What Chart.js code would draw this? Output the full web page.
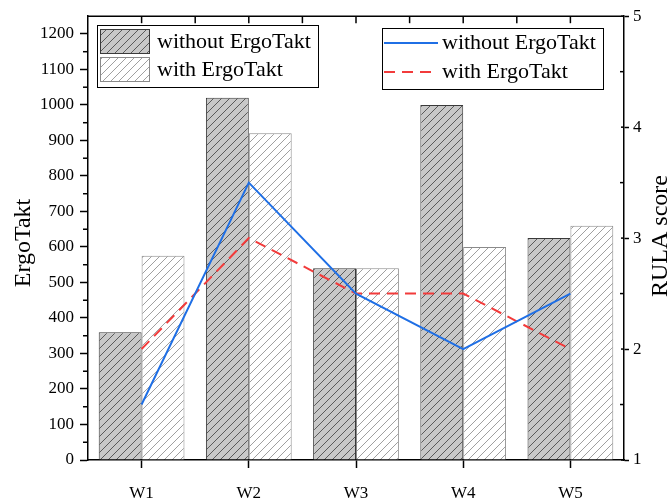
<!DOCTYPE html>
<html>
<head>
<meta charset="utf-8">
<script src="https://cdn.jsdelivr.net/npm/chart.js@4/dist/chart.umd.min.js"></script>
<style>
  html, body { margin: 0; padding: 0; background: #fff; }
  #wrap { width: 667px; height: 498px; }
</style>
</head>
<body>
<div id="wrap"><canvas id="chart" width="667" height="498"></canvas></div>
<script>
// データ
const weeks = ['W1', 'W2', 'W3', 'W4', 'W5'];
const taktWithout = [360, 1020, 540, 1000, 625];
const taktWith = [575, 920, 540, 600, 660];
const rulaWithout = [1.5, 3.5, 2.5, 2, 2.5];
const rulaWith = [2, 3, 2.5, 2.5, 2];
const leftTicks = [0, 100, 200, 300, 400, 500, 600, 700, 800, 900, 1000, 1100, 1200];
const leftMinorTicks = [50, 150, 250, 350, 450, 550, 650, 750, 850, 950, 1050, 1150];
const rightMajorTicks = [1, 2, 3, 4, 5];
const rightMinorTicks = [1.5, 2.5, 3.5, 4.5];

const serif = "'Liberation Serif', 'Times New Roman', serif";

// 斜線ハッチのパターン
function makeHatch(bg, lineColor) {
  const c = document.createElement('canvas');
  c.width = 8;
  c.height = 8;
  const g = c.getContext('2d');
  g.fillStyle = bg;
  g.fillRect(0, 0, 8, 8);
  g.strokeStyle = lineColor;
  g.lineWidth = 1;
  g.beginPath();
  g.moveTo(-1, 1); g.lineTo(1, -1);
  g.moveTo(0, 8); g.lineTo(8, 0);
  g.moveTo(7, 9); g.lineTo(9, 7);
  g.stroke();
  return g.createPattern(c, 'repeat');
}

const greyHatch = makeHatch('#c8c8c8', '#5a5a5a');
const whiteHatch = makeHatch('#ffffff', '#a0a0a0');

function tick(ctx, x1, y1, x2, y2) {
  ctx.beginPath();
  ctx.moveTo(x1, y1);
  ctx.lineTo(x2, y2);
  ctx.stroke();
}

// 枠・補助目盛・凡例・軸タイトル
const framePlugin = {
  id: 'frame',
  afterDraw(chart) {
    const ctx = chart.ctx;
    const a = chart.chartArea;
    const xs = chart.scales.x;
    const ys = chart.scales.y;
    const ys1 = chart.scales.y1;
    const ds = chart.data.datasets;
    ctx.save();
    ctx.strokeStyle = '#000';
    ctx.lineWidth = 1.5;
    // 上の枠線
    tick(ctx, a.left, a.top, a.right, a.top);
    // 上の内向き目盛
    for (let i = 0; i < weeks.length; i++) {
      const p = xs.getPixelForValue(i);
      tick(ctx, p, a.top, p, a.top + 7);
      if (i < weeks.length - 1) {
        const m = (p + xs.getPixelForValue(i + 1)) / 2;
        tick(ctx, m, a.top, m, a.top + 7);
      }
    }
    // 左の補助目盛
    leftMinorTicks.forEach(v => {
      const y = ys.getPixelForValue(v);
      tick(ctx, a.left - 5, y, a.left, y);
    });
    // 右の目盛（内側部分）
    rightMajorTicks.forEach(v => {
      const y = ys1.getPixelForValue(v);
      tick(ctx, a.right - 3, y, a.right, y);
    });
    rightMinorTicks.forEach(v => {
      const y = ys1.getPixelForValue(v);
      tick(ctx, a.right - 4, y, a.right, y);
    });

    // 棒グラフの凡例
    ctx.lineWidth = 1;
    ctx.strokeStyle = '#000';
    ctx.strokeRect(97.5, 25.5, 221, 62);
    ctx.font = '22px ' + serif;
    ctx.fillStyle = '#000';
    ctx.textBaseline = 'middle';
    ctx.textAlign = 'left';
    [0, 1].forEach(i => {
      const top = 29 + i * 28;
      ctx.fillStyle = ds[i].backgroundColor;
      ctx.fillRect(100, top, 50, 25);
      ctx.strokeStyle = ds[i].borderColor;
      ctx.strokeRect(100.5, top + 0.5, 49, 24);
      ctx.fillStyle = '#000';
      ctx.fillText(ds[i].label, 157, top + 13);
    });

    // 折れ線の凡例
    ctx.strokeStyle = '#000';
    ctx.strokeRect(382.5, 28.5, 221, 61);
    [2, 3].forEach((i, k) => {
      const y = 43 + k * 29;
      ctx.strokeStyle = ds[i].borderColor;
      ctx.lineWidth = 2;
      ctx.setLineDash(ds[i].borderDash || []);
      tick(ctx, 384, y, 438, y);
      ctx.setLineDash([]);
      ctx.fillStyle = '#000';
      ctx.fillText(ds[i].label, 442, y);
    });

    // 軸タイトル
    ctx.font = '24px ' + serif;
    ctx.textAlign = 'center';
    ctx.textBaseline = 'middle';
    ctx.save();
    ctx.translate(24, 243);
    ctx.rotate(-Math.PI / 2);
    ctx.fillText('ErgoTakt', 0, 0);
    ctx.restore();
    ctx.save();
    ctx.translate(661, 236);
    ctx.rotate(-Math.PI / 2);
    ctx.fillText('RULA score', 0, 0);
    ctx.restore();

    ctx.restore();
  }
};

const tickFont = { family: serif, size: 17 };

new Chart(document.getElementById('chart'), {
  type: 'bar',
  data: {
    labels: weeks,
    datasets: [
      {
        label: 'without ErgoTakt',
        data: taktWithout,
        backgroundColor: greyHatch,
        borderColor: '#3a3a3a',
        borderWidth: 1,
        yAxisID: 'y',
        order: 2
      },
      {
        label: 'with ErgoTakt',
        data: taktWith,
        backgroundColor: whiteHatch,
        borderColor: '#8a8a8a',
        borderWidth: 1,
        yAxisID: 'y',
        order: 2
      },
      {
        type: 'line',
        label: 'without ErgoTakt',
        data: rulaWithout,
        borderColor: '#1f6fe5',
        borderWidth: 2,
        pointRadius: 0,
        tension: 0,
        fill: false,
        yAxisID: 'y1',
        order: 1
      },
      {
        type: 'line',
        label: 'with ErgoTakt',
        data: rulaWith,
        borderColor: '#f23b3b',
        borderWidth: 2,
        borderDash: [11, 7],
        pointRadius: 0,
        tension: 0,
        fill: false,
        yAxisID: 'y1',
        order: 1
      }
    ]
  },
  options: {
    responsive: false,
    animation: false,
    layout: { padding: { top: 15, left: 0, right: 0, bottom: 0 } },
    plugins: {
      legend: { display: false },
      tooltip: { enabled: false }
    },
    datasets: {
      bar: { categoryPercentage: 0.8, barPercentage: 1.0 }
    },
    scales: {
      x: {
        offset: true,
        grid: { offset: false, drawOnChartArea: false, tickLength: 8, tickColor: '#000', tickWidth: 1.5 },
        border: { color: '#000', width: 1.5 },
        ticks: { font: tickFont, color: '#000', padding: 15, maxRotation: 0 },
        afterFit: s => { s.height = 38; }
      },
      y: {
        position: 'left',
        min: 0,
        max: 1250,
        ticks: { font: tickFont, color: '#000', padding: 6, callback: v => String(v) },
        grid: { drawOnChartArea: false, tickLength: 8, tickColor: '#000', tickWidth: 1.5 },
        border: { color: '#000', width: 1.5 },
        afterBuildTicks: s => { s.ticks = leftTicks.map(v => ({ value: v })); },
        afterFit: s => { s.width = 88; }
      },
      y1: {
        position: 'right',
        min: 1,
        max: 5,
        ticks: { font: tickFont, color: '#000', padding: 4, callback: v => String(v) },
        grid: { drawOnChartArea: false, tickLength: 5, tickColor: '#000', tickWidth: 1.5 },
        border: { color: '#000', width: 1.5 },
        afterBuildTicks: s => { s.ticks = rightMajorTicks.map(v => ({ value: v })); },
        afterFit: s => { s.width = 43; }
      }
    }
  },
  plugins: [framePlugin]
});
</script>
</body>
</html>
